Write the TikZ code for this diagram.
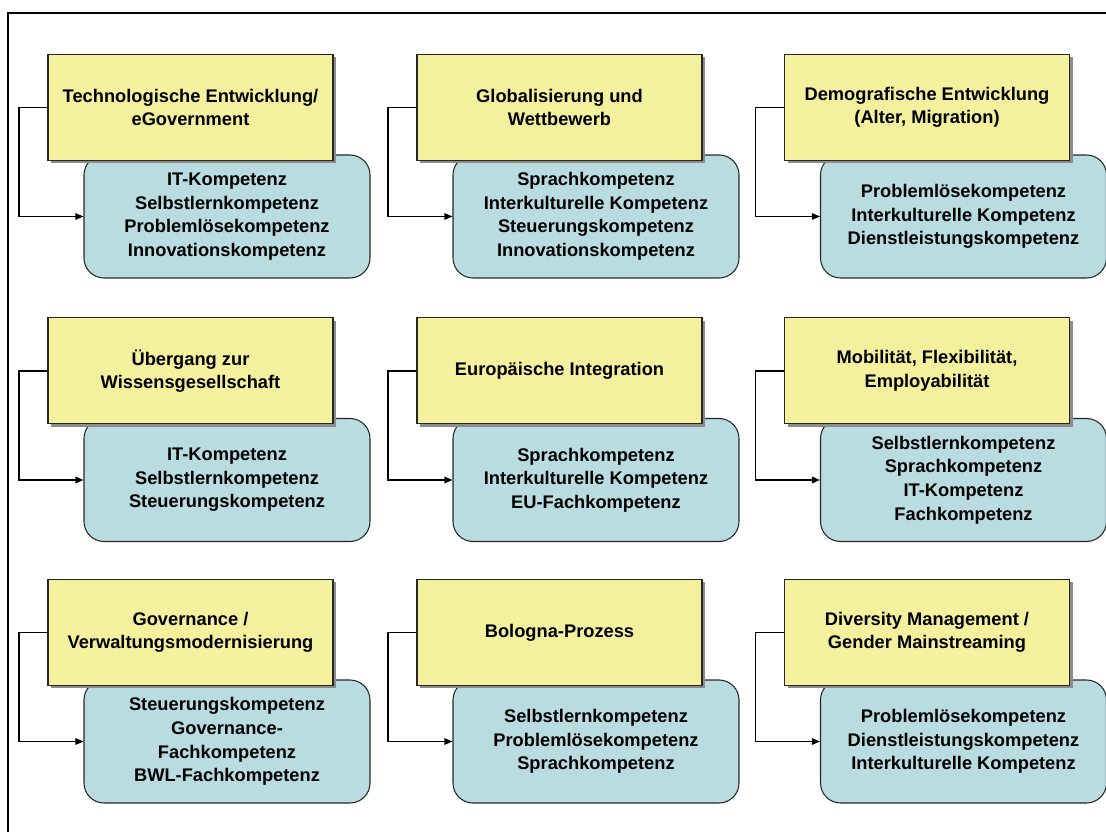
\documentclass[tikz,border=0pt]{standalone}
\usepackage{fontspec}
\setmainfont{Liberation Sans}
\usetikzlibrary{arrows.meta,positioning,shadows}
\definecolor{trendyellow}{RGB}{243,240,158}
\definecolor{compblue}{RGB}{184,220,224}

\begin{document}
\begin{tikzpicture}[font=\bfseries\fontsize{10.4}{13.4}\selectfont,
  trend/.style={draw=black!85, line width=0.6pt, fill=trendyellow, align=center, inner sep=2pt,
    minimum width=5.7cm, minimum height=2.12cm,
    drop shadow={shadow xshift=0.06cm, shadow yshift=-0.06cm, fill=black!45, opacity=1}},
  comp/.style={draw=black!85, line width=0.6pt, fill=compblue, rounded corners=0.4cm, align=center,
    inner sep=2pt, minimum width=5.72cm, minimum height=2.46cm},
  link/.style={line width=0.7pt, -{Triangle[length=0.16cm, width=0.13cm]}}]
  \useasboundingbox (0,0) rectangle (22.12,-16.64);
  \draw[line width=1.2pt] (0.16,-16.64) -- (0.16,-0.26) -- (22.12,-0.26);
  % competences (drawn first, trends lie on top)
  \node[comp] (c1) at (4.54,-4.33) {IT-Kompetenz\\Selbstlernkompetenz\\Problemlösekompetenz\\Innovationskompetenz};
  \node[comp] (c2) at (11.92,-4.33) {Sprachkompetenz\\Interkulturelle Kompetenz\\Steuerungskompetenz\\Innovationskompetenz};
  \node[comp] (c3) at (19.27,-4.33) {Problemlösekompetenz\\Interkulturelle Kompetenz\\Dienstleistungskompetenz};
  \node[comp] (c4) at (4.54,-9.60) {IT-Kompetenz\\Selbstlernkompetenz\\Steuerungskompetenz};
  \node[comp] (c5) at (11.92,-9.60) {Sprachkompetenz\\Interkulturelle Kompetenz\\EU-Fachkompetenz};
  \node[comp] (c6) at (19.27,-9.60) {Selbstlernkompetenz\\Sprachkompetenz\\IT-Kompetenz\\Fachkompetenz};
  \node[comp] (c7) at (4.54,-14.83) {Steuerungskompetenz\\Governance-\\Fachkompetenz\\BWL-Fachkompetenz};
  \node[comp] (c8) at (11.92,-14.83) {Selbstlernkompetenz\\Problemlösekompetenz\\Sprachkompetenz};
  \node[comp] (c9) at (19.27,-14.83) {Problemlösekompetenz\\Dienstleistungskompetenz\\Interkulturelle Kompetenz};
  % trends
  \node[trend, above=-0.13cm of c1, xshift=-0.73cm] (t1) {Technologische Entwicklung/\\eGovernment};
  \node[trend, above=-0.13cm of c2, xshift=-0.73cm] (t2) {Globalisierung und\\Wettbewerb};
  \node[trend, above=-0.13cm of c3, xshift=-0.73cm] (t3) {Demografische Entwicklung\\(Alter, Migration)};
  \node[trend, above=-0.13cm of c4, xshift=-0.73cm] (t4) {Übergang zur\\Wissensgesellschaft};
  \node[trend, above=-0.13cm of c5, xshift=-0.73cm] (t5) {Europäische Integration};
  \node[trend, above=-0.13cm of c6, xshift=-0.73cm] (t6) {Mobilität, Flexibilität,\\Employabilität};
  \node[trend, above=-0.13cm of c7, xshift=-0.73cm] (t7) {Governance /\\Verwaltungsmodernisierung};
  \node[trend, above=-0.13cm of c8, xshift=-0.73cm] (t8) {Bologna-Prozess};
  \node[trend, above=-0.13cm of c9, xshift=-0.73cm] (t9) {Diversity Management /\\Gender Mainstreaming};
  \draw[link] (t1.west) -- ++(-0.57,0) |- (c1.west);
  \draw[link] (t2.west) -- ++(-0.57,0) |- (c2.west);
  \draw[link] (t3.west) -- ++(-0.57,0) |- (c3.west);
  \draw[link] (t4.west) -- ++(-0.57,0) |- (c4.west);
  \draw[link] (t5.west) -- ++(-0.57,0) |- (c5.west);
  \draw[link] (t6.west) -- ++(-0.57,0) |- (c6.west);
  \draw[link] (t7.west) -- ++(-0.57,0) |- (c7.west);
  \draw[link] (t8.west) -- ++(-0.57,0) |- (c8.west);
  \draw[link] (t9.west) -- ++(-0.57,0) |- (c9.west);
\end{tikzpicture}
\end{document}
